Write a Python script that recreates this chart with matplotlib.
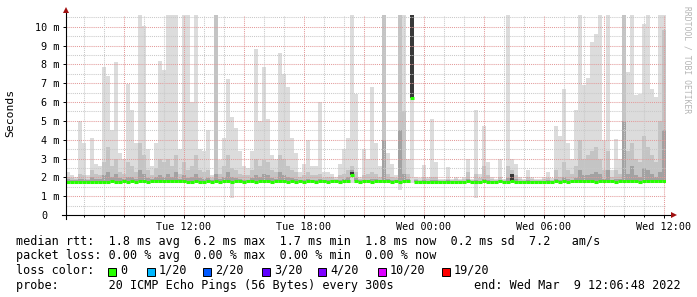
import matplotlib
matplotlib.use("Agg")
import matplotlib.pyplot as plt
import matplotlib.dates as mdates
from matplotlib.transforms import ScaledTranslation
from matplotlib.patches import Rectangle
import numpy as np
import pandas as pd

# ---------------- data ----------------
END_TIME = "2022-03-09 12:06:48"
BIN_MINUTES = 12
N_BINS = 150

# top of the lightest smoke (max ping), ms
rtt_max = [
    2.3, 2.1, 2.0, 5.0, 3.8, 2.1, 4.1, 2.7, 2.6, 7.85, 7.4, 4.5, 8.1, 3.3, 3.0, 6.95, 5.55, 3.8, 10.6, 10.05, 3.5, 2.6, 3.8, 8.2, 7.7,
    10.6, 10.6, 10.6, 3.5, 10.6, 10.6, 6.0, 10.6, 3.5, 3.4, 4.5, 2.1, 10.6, 2.9, 4.1, 7.2, 5.2, 4.6, 3.4, 2.6, 2.5, 3.4, 8.8, 5.0, 7.85,
    5.1, 3.2, 3.0, 8.6, 7.5, 6.8, 4.1, 3.3, 2.3, 2.7, 4.0, 2.6, 2.6, 6.0, 2.3, 2.3, 2.2, 2.0, 2.7, 3.5, 4.1, 10.6, 6.4, 2.0, 3.5,
    3.0, 6.8, 3.8, 2.6, 10.6, 3.3, 2.7, 2.1, 10.6, 10.6, 3.0, 10.6, 2.0, 1.95, 2.65, 2.0, 5.1, 2.8, 1.9, 1.9, 2.55, 1.9, 2.0, 1.9, 2.0,
    3.0, 1.9, 5.55, 2.2, 4.7, 2.8, 2.0, 1.9, 3.0, 1.9, 10.6, 3.0, 2.7, 2.0, 1.9, 2.4, 2.0, 1.9, 1.9, 2.0, 2.3, 1.95, 4.7, 4.2, 6.7,
    3.8, 3.0, 5.55, 10.6, 6.9, 7.3, 9.2, 9.6, 10.6, 4.0, 10.6, 2.4, 4.05, 3.0, 10.6, 7.6, 10.6, 6.35, 6.4, 10.15, 10.6, 6.7, 6.25, 10.6, 10.6,
]
# upper (medium grey) smoke band
rtt_upper = [
    2.0, 1.95, 1.9, 2.2, 2.1, 1.9, 2.4, 2.2, 2.1, 2.8, 3.6, 2.6, 3.0, 2.3, 2.2, 2.8, 2.6, 2.3, 3.8, 3.2, 2.4, 2.1, 2.5, 3.0, 2.8,
    3.0, 2.6, 3.2, 2.2, 2.8, 2.4, 2.6, 3.2, 2.4, 2.3, 2.4, 1.95, 10.6, 2.2, 2.6, 3.2, 2.5, 2.4, 2.2, 2.1, 2.1, 2.4, 3.0, 2.6, 2.9,
    2.8, 2.4, 2.3, 3.2, 3.0, 2.6, 2.4, 2.3, 2.0, 2.1, 2.3, 2.1, 2.1, 2.2, 1.95, 2.0, 2.0, 1.9, 2.1, 2.2, 2.4, 2.6, 2.3, 1.9, 2.1,
    2.2, 2.3, 2.2, 2.0, 10.6, 2.2, 2.0, 1.95, 10.6, 5.5, 2.2, 10.6, 1.9, 1.85, 2.0, 1.9, 2.0, 2.0, 1.85, 1.85, 1.9, 1.85, 1.9, 1.85, 1.9,
    2.3, 1.85, 2.2, 1.95, 2.6, 2.1, 1.9, 1.85, 2.0, 1.85, 2.6, 2.4, 2.1, 1.9, 1.85, 2.0, 1.9, 1.85, 1.85, 1.9, 1.95, 1.85, 2.4, 2.0, 2.8,
    2.4, 2.2, 2.6, 4.0, 3.0, 3.2, 3.4, 3.6, 3.0, 2.4, 3.4, 2.0, 2.4, 2.2, 10.6, 3.4, 3.8, 3.0, 2.8, 4.2, 3.6, 3.2, 2.8, 5.0, 9.8,
]
# lower (dark grey) smoke band
rtt_lower = [
    1.9, 1.85, 1.85, 1.9, 1.9, 1.85, 2.0, 1.9, 1.9, 2.1, 2.3, 2.0, 2.2, 1.95, 1.9, 2.0, 2.0, 1.9, 2.4, 2.2, 1.95, 1.9, 2.0, 2.1, 2.0,
    2.2, 2.0, 2.3, 1.9, 2.1, 1.95, 2.0, 2.2, 1.95, 1.9, 1.95, 1.85, 2.2, 1.9, 2.0, 2.3, 2.0, 1.95, 1.9, 1.85, 1.85, 1.95, 2.1, 2.0, 2.2,
    2.1, 1.95, 1.9, 2.3, 2.1, 2.0, 1.95, 1.9, 1.85, 1.85, 1.9, 1.85, 1.85, 1.9, 1.85, 1.85, 1.85, 1.85, 1.85, 1.9, 2.0, 2.4, 1.95, 1.85, 1.85,
    1.85, 1.9, 1.9, 1.85, 4.0, 1.9, 1.85, 1.85, 4.5, 2.2, 1.9, 10.6, 1.85, 1.8, 1.85, 1.8, 1.85, 1.85, 1.8, 1.8, 1.85, 1.8, 1.8, 1.8, 1.8,
    1.9, 1.8, 1.85, 1.8, 1.9, 1.85, 1.8, 1.8, 1.85, 1.8, 1.95, 2.1, 1.9, 1.8, 1.8, 1.85, 1.8, 1.8, 1.8, 1.8, 1.85, 1.8, 1.9, 1.85, 2.0,
    1.9, 1.85, 1.95, 2.4, 2.1, 2.1, 2.2, 2.3, 2.2, 1.9, 2.4, 1.85, 1.9, 1.9, 5.0, 2.2, 2.6, 2.1, 2.0, 2.5, 2.4, 2.2, 2.0, 2.3, 4.5,
]
# lowest ping
rtt_min = [
    1.68, 1.68, 1.68, 1.68, 1.68, 1.68, 1.68, 1.68, 1.68, 1.68, 1.68, 1.68, 1.68, 1.68, 1.68, 1.68, 1.68, 1.68, 1.68, 1.68, 1.68, 1.68, 1.68, 1.68, 1.68,
    1.68, 1.68, 1.68, 1.68, 1.68, 1.68, 1.68, 1.68, 1.68, 1.68, 1.68, 1.68, 1.68, 1.68, 1.68, 1.68, 0.9, 1.68, 1.68, 1.68, 1.68, 1.68, 1.68, 1.68, 1.68,
    1.68, 1.68, 1.68, 1.68, 1.68, 1.68, 1.68, 1.68, 1.68, 1.68, 1.68, 1.68, 1.68, 1.68, 1.68, 1.68, 1.68, 1.68, 1.68, 1.68, 1.68, 1.68, 1.68, 1.68, 1.68,
    1.68, 1.68, 1.68, 1.68, 1.68, 1.68, 1.68, 1.68, 1.35, 1.68, 1.68, 1.68, 1.68, 1.68, 1.68, 1.68, 1.68, 1.68, 1.68, 1.68, 1.68, 1.68, 1.68, 1.68, 1.68,
    1.68, 1.68, 0.9, 1.68, 1.68, 1.68, 1.68, 1.68, 1.68, 1.68, 1.68, 1.68, 1.68, 1.68, 1.68, 1.68, 1.68, 1.68, 1.68, 1.68, 1.68, 1.68, 1.68, 1.68, 1.68,
    1.68, 1.68, 1.68, 1.68, 1.68, 1.68, 1.68, 1.68, 1.68, 1.68, 1.68, 1.68, 1.68, 1.68, 1.68, 1.68, 1.68, 1.68, 1.68, 1.68, 1.68, 1.68, 1.68, 1.68, 1.68,
]
# median rtt
rtt_median = [
    1.76, 1.74, 1.74, 1.76, 1.74, 1.76, 1.74, 1.76, 1.74, 1.76, 1.76, 1.78, 1.76, 1.76, 1.78, 1.76, 1.78, 1.76, 1.78, 1.78, 1.76, 1.78, 1.78, 1.80, 1.78,
    1.78, 1.80, 1.78, 1.78, 1.80, 1.76, 1.76, 1.78, 1.76, 1.76, 1.78, 1.76, 1.78, 1.76, 1.78, 1.78, 1.76, 1.78, 1.78, 1.76, 1.78, 1.78, 1.76, 1.78, 1.80,
    1.78, 1.76, 1.78, 1.80, 1.78, 1.76, 1.78, 1.76, 1.78, 1.76, 1.78, 1.78, 1.76, 1.78, 1.78, 1.76, 1.78, 1.78, 1.76, 1.78, 1.78, 2.10, 1.78, 1.76, 1.78,
    1.78, 1.76, 1.78, 1.78, 1.80, 1.78, 1.76, 1.78, 1.76, 1.78, 1.80, 6.20, 1.76, 1.76, 1.76, 1.76, 1.76, 1.76, 1.76, 1.76, 1.76, 1.76, 1.76, 1.76, 1.76,
    1.78, 1.76, 1.76, 1.76, 1.78, 1.76, 1.76, 1.76, 1.78, 1.76, 1.76, 1.80, 1.76, 1.76, 1.76, 1.76, 1.76, 1.76, 1.76, 1.76, 1.76, 1.76, 1.78, 1.76, 1.78,
    1.76, 1.78, 1.78, 1.78, 1.78, 1.80, 1.78, 1.76, 1.78, 1.78, 1.80, 1.78, 1.76, 1.78, 1.80, 1.78, 1.78, 1.80, 1.76, 1.78, 1.80, 1.78, 1.78, 1.78, 1.80,
]
# very dark smoke (burst with many slow pings)
core_bins = [86, 71, 111]
core_top = [10.6, 2.3, 2.2]

y_ticks = [0, 1, 2, 3, 4, 5, 6, 7, 8, 9, 10]
y_tick_labels = ["0", "1 m", "2 m", "3 m", "4 m", "5 m", "6 m", "7 m", "8 m", "9 m", "10 m"]
x_tick_times = ["2022-03-08 12:00", "2022-03-08 18:00", "2022-03-09 00:00",
                "2022-03-09 06:00", "2022-03-09 12:00"]

legend_lines = [
    "median rtt:  1.8 ms avg  6.2 ms max  1.7 ms min  1.8 ms now  0.2 ms sd  7.2   am/s",
    "packet loss: 0.00 % avg  0.00 % max  0.00 % min  0.00 % now",
    "loss color:",
    "probe:       20 ICMP Echo Pings (56 Bytes) every 300s",
]
end_text = "end: Wed Mar  9 12:06:48 2022"
loss_labels = ["0", "1/20", "2/20", "3/20", "4/20", "10/20", "19/20"]
loss_colors = ["#26ff00", "#00b8ff", "#0059ff", "#5e00ff", "#7e00ff", "#dd00ff", "#ff0000"]

# ---------------- figure ----------------
MONO = "DejaVu Sans Mono"
W, H = 697, 297
fig = plt.figure(figsize=(W / 100, H / 100), dpi=100)
fig.patch.set_facecolor("white")

def fx(px):
    return px / W

def fy(py):
    return 1 - py / H

ax = fig.add_axes([fx(66), fy(215), 600 / W, 200 / H])
ax.set_facecolor("white")

end = pd.Timestamp(END_TIME)
edges = pd.date_range(end - pd.Timedelta(minutes=BIN_MINUTES * N_BINS), periods=N_BINS + 1,
                      freq=f"{BIN_MINUTES}min")
ex = mdates.date2num(edges.to_pydatetime())

mx = np.array(rtt_max)
up = np.array(rtt_upper)
lo = np.array(rtt_lower)
mn = np.array(rtt_min)
md = np.array(rtt_median)

ax.stairs(mx, ex, baseline=mn, fill=True, color="#dcdcdc", lw=0, zorder=1)
ax.stairs(up, ex, baseline=md, fill=True, color="#c4c4c4", lw=0, zorder=1.1)
ax.stairs(lo, ex, baseline=md, fill=True, color="#a2a2a2", lw=0, zorder=1.2)
for b, t in zip(core_bins, core_top):
    ax.bar(ex[b], t - md[b], bottom=md[b], width=ex[b + 1] - ex[b], align="edge",
           color="#383838", lw=0, zorder=1.3)

ax.set_xlim(ex[0], ex[-1])
ax.set_ylim(0, 10.62)

# grid (drawn on top of smoke, like rrdtool)
dot = (0, (1, 1))
for yv in np.arange(0.5, 10.6, 0.5):
    major = abs(yv - round(yv)) < 1e-6
    ax.axhline(yv, color="#e39a9a" if major else "#c9c9c9", lw=0.75, ls=dot, zorder=2)
hours = pd.date_range("2022-03-08 07:00", "2022-03-09 12:00", freq="1h")
for h in hours:
    major = h.hour % 3 == 0
    ax.axvline(mdates.date2num(h.to_pydatetime()), color="#e39a9a" if major else "#c9c9c9",
               lw=0.75, ls=dot, zorder=2)

# median line
ax.hlines(md, ex[:-1], ex[1:], colors="#26ff00", lw=2.2, zorder=4)

# axes
for s in ax.spines.values():
    s.set_visible(False)
ax.plot([-4 / 600, 1 + 6 / 600], [0, 0], transform=ax.transAxes, color="black", lw=0.8,
        clip_on=False, zorder=5)
ax.plot([0, 0], [-4 / 200, 1 + 4 / 200], transform=ax.transAxes, color="black", lw=0.8,
        clip_on=False, zorder=5)
ax.plot([0], [1 + 5 / 200], marker="^", ms=4.5, color="#a01010", transform=ax.transAxes,
        clip_on=False, zorder=6, mew=0)
ax.plot([1 + 8 / 600], [0], marker=">", ms=4.5, color="#a01010", transform=ax.transAxes,
        clip_on=False, zorder=6, mew=0)

# ticks
ax.set_yticks(y_ticks)
ax.set_yticklabels(y_tick_labels, fontfamily=MONO, fontsize=7.3)
ax.tick_params(axis="y", length=2.5, width=0.7, pad=2, colors="black")
lbl0 = ax.get_yticklabels()[0]
lbl0.set_transform(lbl0.get_transform() + ScaledTranslation(-12 / 100, 0, fig.dpi_scale_trans))

xt = [mdates.date2num(pd.Timestamp(t).to_pydatetime()) for t in x_tick_times]
ax.set_xticks(xt)
ax.set_xticklabels([pd.Timestamp(t).strftime("%a %H:%M") for t in x_tick_times],
                   fontfamily=MONO, fontsize=7.3)
ax.set_xticks([mdates.date2num(h.to_pydatetime()) for h in hours], minor=True)
ax.tick_params(axis="x", which="major", length=2.5, width=0.7, pad=2.5)
ax.tick_params(axis="x", which="minor", length=1.5, width=0.7)

# labels and legend
fig.text(fx(10), fy(113), "Seconds", rotation=90, ha="center", va="center",
         family=MONO, fontsize=8.2)
fig.text(fx(687), fy(60), "RRDTOOL / TOBI OETIKER", rotation=270, ha="center", va="center",
         family=MONO, fontsize=5.8, color="#b4b4b4")

baselines = [244.5, 259.2, 273.9, 288.6]
for txt, by in zip(legend_lines, baselines):
    fig.text(fx(16), fy(by), txt, ha="left", va="baseline", family=MONO, fontsize=8.5)
fig.text(fx(681), fy(baselines[3]), end_text, ha="right", va="baseline", family=MONO, fontsize=8.5)

box_x = [108, 147, 203, 262, 318, 378, 441.5]
for bx, lab, col in zip(box_x, loss_labels, loss_colors):
    fig.patches.append(Rectangle((fx(bx), fy(275.5)), 8 / W, 8 / H, transform=fig.transFigure,
                                 facecolor=col, edgecolor="black", lw=0.7, figure=fig))
    fig.text(fx(bx + 12), fy(baselines[2]), lab, ha="left", va="baseline", family=MONO,
             fontsize=8.5)

fig.savefig("out.png", dpi=100, facecolor="white")
